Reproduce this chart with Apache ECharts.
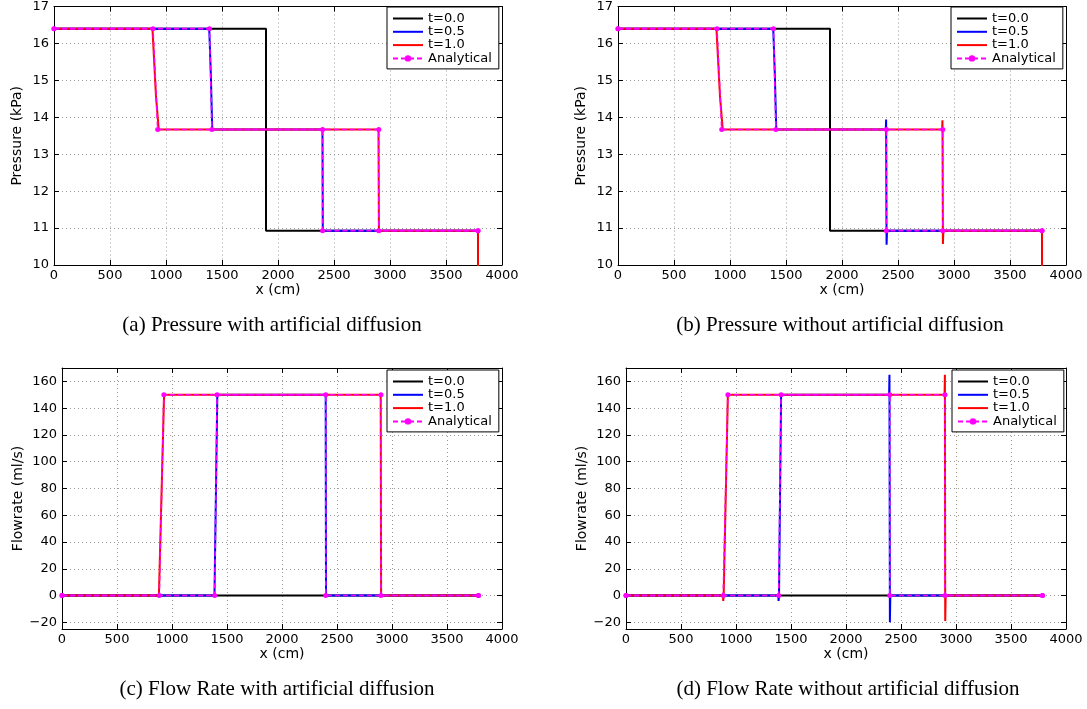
<!DOCTYPE html>
<html><head><meta charset="utf-8">
<script src="https://cdn.jsdelivr.net/npm/echarts@6/dist/echarts.min.js"></script>
<style>html,body{margin:0;padding:0;background:#fff}#c{width:1087px;height:709px}</style>
</head><body><div id="c"></div>
<script>
// ---------- data ----------
const seriesNames = ['t=0.0', 't=0.5', 't=1.0', 'Analytical'];
const qTickValues = [-20, 0, 20, 40, 60, 80, 100, 120, 140, 160];

// (a) Pressure with artificial diffusion  [x (cm), kPa]
const pA_t00 = [[0,16.4],[1893,16.4],[1893,10.93],[3786,10.93]];
const pA_t05 = [[0,16.4],[1386,16.4],[1400,15.2],[1413,13.67],[2397,13.67],[2400,10.93],[3786,10.93],[3786,9]];
const pA_t10 = [[0,16.4],[879,16.4],[910,14.6],[935,13.67],[2897,13.67],[2901,10.93],[3786,10.93],[3786,9]];
const pA_an05 = [[0,16.4],[1388,16.4],[1410,13.67],[2398,13.67],[2398,10.93],[3786,10.93]];
const pA_an10 = [[0,16.4],[884,16.4],[926,13.67],[2900,13.67],[2900,10.93],[3786,10.93]];

// (b) Pressure without artificial diffusion
const pB_t00 = [[0,16.4],[1893,16.4],[1893,10.93],[3786,10.93]];
const pB_t05 = [[0,16.4],[1386,16.4],[1400,15.2],[1413,13.67],[2391,13.67],[2394,13.94],[2398,10.55],[2402,10.93],[3786,10.93],[3786,9]];
const pB_t10 = [[0,16.4],[879,16.4],[910,14.6],[935,13.67],[2894,13.67],[2897,13.92],[2901,10.57],[2905,10.93],[3786,10.93],[3786,9]];
const pB_an05 = [[0,16.4],[1388,16.4],[1410,13.67],[2396,13.67],[2396,10.93],[3786,10.93]];
const pB_an10 = [[0,16.4],[884,16.4],[926,13.67],[2900,13.67],[2900,10.93],[3786,10.93]];

// (c) Flow rate with artificial diffusion  [x (cm), ml/s]
const qC_t00 = [[0,0],[3786,0]];
const qC_t05 = [[0,0],[1386,0],[1412,150],[2397,150],[2400,0],[3786,0]];
const qC_t10 = [[0,0],[881,0],[928,150],[2897,150],[2901,0],[3786,0]];
const qC_an05 = [[0,0],[1388,0],[1410,150],[2398,150],[2398,0],[3786,0]];
const qC_an10 = [[0,0],[884,0],[926,150],[2900,150],[2900,0],[3786,0]];

// (d) Flow rate without artificial diffusion
const qD_t00 = [[0,0],[3786,0]];
const qD_t05 = [[0,0],[1385,0],[1387,-4],[1391,0],[1410,150],[2392,150],[2395,165],[2399,-20],[2403,0],[3786,0]];
const qD_t10 = [[0,0],[882,0],[884,-4],[888,0],[926,150],[2896,150],[2899,165],[2902,-19],[2906,0],[3786,0]];
const qD_an05 = [[0,0],[1388,0],[1410,150],[2398,150],[2398,0],[3786,0]];
const qD_an10 = [[0,0],[884,0],[926,150],[2900,150],[2900,0],[3786,0]];

const captions = [
  '(a) Pressure with artificial diffusion',
  '(b) Pressure without artificial diffusion',
  '(c) Flow Rate with artificial diffusion',
  '(d) Flow Rate without artificial diffusion'
];

// ---------- layout / style ----------
const panels = [
  {grid:{left:54,top:5,width:448,height:260}, y:'p', yName:'Pressure (kPa)', legend:{left:387,top:7},
   data:[pA_t00,pA_t05,pA_t10,pA_an05,pA_an10], cap:{x:272,y:325}},
  {grid:{left:618,top:5,width:448,height:260}, y:'p', yName:'Pressure (kPa)', legend:{left:951,top:7},
   data:[pB_t00,pB_t05,pB_t10,pB_an05,pB_an10], cap:{x:840,y:325}},
  {grid:{left:62,top:368,width:440,height:261}, y:'q', yName:'Flowrate (ml/s)', legend:{left:387,top:370},
   data:[qC_t00,qC_t05,qC_t10,qC_an05,qC_an10], cap:{x:277,y:689}},
  {grid:{left:626,top:368,width:440,height:261}, y:'q', yName:'Flowrate (ml/s)', legend:{left:952,top:370},
   data:[qD_t00,qD_t05,qD_t10,qD_an05,qD_an10], cap:{x:848,y:689}}
];

const TICK_FONT = 'DejaVu Sans';
const splitStyle = {show:true, lineStyle:{color:'#9a9a9a', width:1, type:[1,3]}};
const lineAx = {show:true, onZero:false, lineStyle:{color:'#000', width:1}};
const tickIn = {show:true, inside:true, length:5, lineStyle:{color:'#000', width:1}};

const grids = [], xAxes = [], yAxes = [], series = [], legends = [], graphics = [];

panels.forEach((P, i) => {
  grids.push(Object.assign({containLabel:false}, P.grid));
  const xBase = {gridIndex:i, type:'value', min:0, max:4000, interval:500};
  xAxes.push(Object.assign({}, xBase, {
    position:'bottom', name:'x (cm)', nameLocation:'middle', nameGap:16,
    nameTextStyle:{fontFamily:TICK_FONT, fontSize:14, color:'#000'},
    axisLine:lineAx, axisTick:tickIn, splitLine:splitStyle,
    axisLabel:{fontFamily:TICK_FONT, fontSize:13, color:'#000', margin:4, formatter: v => String(v)}
  }));
  xAxes.push(Object.assign({}, xBase, {
    position:'top', axisLine:lineAx, axisTick:tickIn, splitLine:{show:false}, axisLabel:{show:false}
  }));
  let yBase;
  if (P.y === 'p') {
    yBase = {gridIndex:i, type:'value', min:10, max:17, interval:1};
  } else {
    yBase = {gridIndex:i, type:'value', min:-25, max:170};
  }
  const yTick = Object.assign({}, tickIn);
  const yLab = {fontFamily:TICK_FONT, fontSize:13, color:'#000', margin:5,
    formatter: v => (v < 0 ? '\u2212' + Math.abs(v) : String(v))};
  if (P.y === 'q') { yTick.customValues = qTickValues; yLab.customValues = qTickValues; }
  yAxes.push(Object.assign({}, yBase, {
    position:'left', name:P.yName, nameLocation:'middle', nameGap:30, nameRotate:90,
    nameTextStyle:{fontFamily:TICK_FONT, fontSize:14, color:'#000'},
    axisLine:lineAx, axisTick:yTick, splitLine:splitStyle, axisLabel:yLab
  }));
  yAxes.push(Object.assign({}, yBase, {
    position:'right', axisLine:lineAx, axisTick:Object.assign({}, yTick), splitLine:{show:false}, axisLabel:{show:false}
  }));
  const xi = 2*i, yi = 2*i;
  const num = (name, d, color, z) => ({
    type:'line', name, xAxisIndex:xi, yAxisIndex:yi, data:d, symbol:'none', z, clip:true,
    lineStyle:{color, width:2}, itemStyle:{color}, animation:false
  });
  series.push(num('t=0.0', P.data[0], '#000000', 2));
  series.push(num('t=0.5', P.data[1], '#0000ff', 3));
  series.push(num('t=1.0', P.data[2], '#ff0000', 4));
  [P.data[3], P.data[4]].forEach(d => series.push({
    type:'line', name:'Analytical', xAxisIndex:xi, yAxisIndex:yi, data:d, z:5, clip:true,
    symbol:'circle', symbolSize:5, showSymbol:true,
    lineStyle:{color:'#ff00ff', width:1.6, type:[5,3]}, itemStyle:{color:'#ff00ff'}, animation:false
  }));
  legends.push({
    left:P.legend.left, top:P.legend.top, orient:'vertical',
    data:[
      {name:'t=0.0', itemStyle:{opacity:0}},
      {name:'t=0.5', itemStyle:{opacity:0}},
      {name:'t=1.0', itemStyle:{opacity:0}},
      {name:'Analytical'}
    ],
    itemWidth:30, itemHeight:8, itemGap:0.3, padding:[5,7,4,5],
    borderColor:'#000', borderWidth:1, backgroundColor:'#fff', selectedMode:false,
    textStyle:{fontFamily:TICK_FONT, fontSize:13, color:'#000', lineHeight:13}
  });
  graphics.push({
    type:'text', x:P.cap.x, y:P.cap.y,
    style:{text:captions[i], fill:'#000', font:'21px "Liberation Serif"', textAlign:'center', textVerticalAlign:'middle'}
  });
});

const chart = echarts.init(document.getElementById('c'), null, {renderer:'canvas'});
chart.setOption({
  animation:false,
  backgroundColor:'#fff',
  grid:grids, xAxis:xAxes, yAxis:yAxes, series, legend:legends, graphic:graphics
});
</script></body></html>
